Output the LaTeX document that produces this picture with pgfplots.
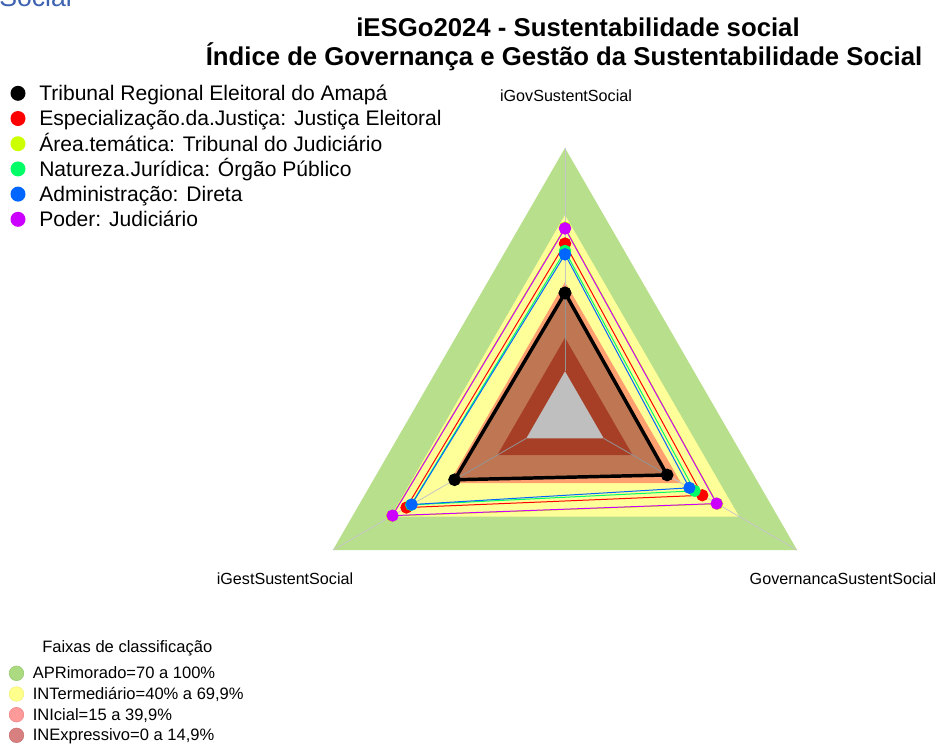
\documentclass[border=0pt]{standalone}
\usepackage{fontspec}
\setmainfont{Liberation Sans}
\usepackage{pgfplots}
\pgfplotsset{compat=1.18}
\usepackage{pgfplotstable}

\definecolor{apr}{HTML}{B8DF8B}
\definecolor{intm}{HTML}{FFFF99}
\definecolor{ini}{HTML}{FFA070}
\definecolor{inex}{HTML}{E05535}
\definecolor{sred}{HTML}{FF0000}
\definecolor{slime}{HTML}{CCFF00}
\definecolor{sgreen}{HTML}{00FF66}
\definecolor{sblue}{HTML}{0066FF}
\definecolor{spurple}{HTML}{CC00FF}
\definecolor{hdblue}{HTML}{3C62B0}

% classification bands (percent)
\pgfplotstableread{
ang apr int ini inex zero
90  100 70 40 15 0
210 100 70 40 15 0
330 100 70 40 15 0
90  100 70 40 15 0
}\bands

% series values (percent), first row repeated to close the polygon
\pgfplotstableread{
ang tre  esp  area nat  adm  pod
90  35.1 57.2 64.4 53.9 52.4 64.0
210 37.1 62.0 69.5 59.6 59.3 69.2
330 32.8 51.0 58.7 47.0 44.3 58.4
90  35.1 57.2 64.4 53.9 52.4 64.0
}\radar

% fmsb-like radius: centre hole of 1/6, 5 segments
\newcommand{\rad}[1]{1/6+5*\thisrow{#1}/600}

\begin{document}
\begin{tikzpicture}
\begin{axis}[
    at={(423.75pt,-312pt)}, anchor=origin,
    x=201pt, y=201pt,
    xmin=-1.1, xmax=1.1, ymin=-0.6, ymax=1.1,
    hide axis, clip=false,
    data cs=polar,
]
\addplot[fill=apr, draw=none] table[x=ang, y expr={\rad{apr}}] {\bands};
\addplot[fill=intm, draw=none] table[x=ang, y expr={\rad{int}}] {\bands};
\addplot[fill=ini, draw=none] table[x=ang, y expr={\rad{ini}}] {\bands};
\addplot[fill=inex, draw=none] table[x=ang, y expr={\rad{inex}}] {\bands};
\addplot[fill=white, draw=none] table[x=ang, y expr={\rad{zero}}] {\bands};

\addplot[gray!45, line width=0.6pt] coordinates {(90,0.1667) (90,1)};
\addplot[gray!45, line width=0.6pt] coordinates {(210,0.1667) (210,1)};
\addplot[gray!45, line width=0.6pt] coordinates {(330,0.1667) (330,1)};

\addplot[black, line width=2.6pt, fill=black, fill opacity=0.25, mark=*, mark size=3.4pt, mark options={fill opacity=1}]
    table[x=ang, y expr={\rad{tre}}] {\radar};
\addplot[sred, line width=0.75pt, mark=*, mark size=4.2pt] table[x=ang, y expr={\rad{esp}}] {\radar};
\addplot[slime, line width=0.75pt, mark=*, mark size=4.2pt] table[x=ang, y expr={\rad{area}}] {\radar};
\addplot[sgreen, line width=0.75pt, mark=*, mark size=4.2pt] table[x=ang, y expr={\rad{nat}}] {\radar};
\addplot[sblue, line width=0.75pt, mark=*, mark size=4.2pt] table[x=ang, y expr={\rad{adm}}] {\radar};
\addplot[spurple, line width=0.75pt, mark=*, mark size=4.2pt] table[x=ang, y expr={\rad{pod}}] {\radar};
\end{axis}

\begin{scope}[x=0.75pt, y=-0.75pt]
\path[use as bounding box] (0,0) rectangle (941,743);
\clip (0,0) rectangle (941,743);
\node[anchor=base west, inner sep=0, text=hdblue, font=\fontsize{20}{24}\selectfont] at (-1,6) {Social};

\node[anchor=base, inner sep=0, font=\bfseries\fontsize{19.3}{23}\selectfont] at (578,36) {iESGo2024 - Sustentabilidade social};
\node[anchor=base, inner sep=0, font=\bfseries\fontsize{19.3}{23}\selectfont] at (564,65) {Índice de Governança e Gestão da Sustentabilidade Social};

\begin{scope}[every node/.style={anchor=base west, inner sep=0, font=\fontsize{15.8}{19}\selectfont}]
\fill[black]   (18,93.3)  circle (7.5); \node at (39,100.7) {Tribunal Regional Eleitoral do Amapá};
\fill[sred]    (18,118.5) circle (7.5); \node at (39,125.9) {Especialização.da.Justiça: Justiça Eleitoral};
\fill[slime]   (18,143.7) circle (7.5); \node at (39,151.1) {Área.temática: Tribunal do Judiciário};
\fill[sgreen]  (18,168.9) circle (7.5); \node at (39,176.3) {Natureza.Jurídica: Órgão Público};
\fill[sblue]   (18,194.1) circle (7.5); \node at (39,201.5) {Administração: Direta};
\fill[spurple] (18,219.3) circle (7.5); \node at (39,226.7) {Poder: Judiciário};
\end{scope}

\begin{scope}[every node/.style={anchor=base, inner sep=0, font=\fontsize{12.1}{14}\selectfont}]
\node at (566,101) {iGovSustentSocial};
\node at (285,584) {iGestSustentSocial};
\node at (843,584) {GovernancaSustentSocial};
\end{scope}

\begin{scope}[every node/.style={anchor=base west, inner sep=0, font=\fontsize{12.4}{14}\selectfont}]
\node at (42,652) {Faixas de classificação};
\filldraw[fill={rgb,255:red,172;green,218;blue,128}, draw={rgb,255:red,150;green,200;blue,110}] (16.5,673.3) circle (7.3);
\node at (32.5,678.8) {APRimorado=70 a 100\%};
\filldraw[fill={rgb,255:red,255;green,255;blue,140}, draw={rgb,255:red,240;green,240;blue,120}] (16.5,694) circle (7.3);
\node at (32.5,699.5) {INTermediário=40\% a 69,9\%};
\filldraw[fill={rgb,255:red,255;green,154;blue,154}, draw={rgb,255:red,240;green,130;blue,130}] (16.5,714.7) circle (7.3);
\node at (32.5,720.2) {INIcial=15 a 39,9\%};
\filldraw[fill={rgb,255:red,216;green,128;blue,128}, draw={rgb,255:red,200;green,110;blue,110}] (16.5,735.3) circle (7.3);
\node at (32.5,740.8) {INExpressivo=0 a 14,9\%};
\end{scope}
\end{scope}
\end{tikzpicture}
\end{document}
